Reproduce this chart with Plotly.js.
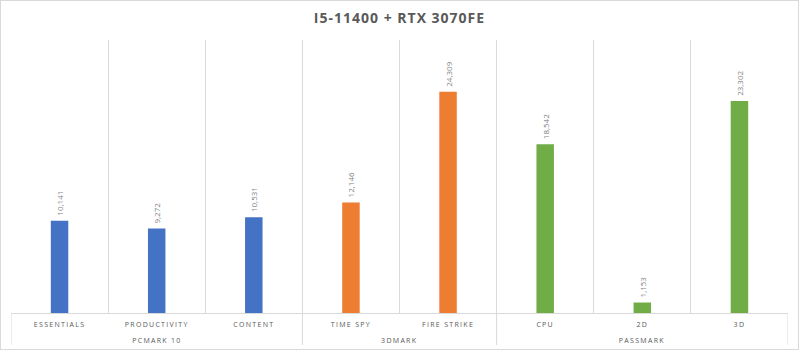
<!DOCTYPE html>
<html>
<head>
<meta charset="utf-8">
<script src="https://cdn.plot.ly/plotly-3.0.1.min.js"></script>
<style>
  html, body { margin: 0; padding: 0; background: #fff; }
  #chart { position: absolute; left: 0; top: 0; width: 797px; height: 348px; border: 1px solid #d9d9d9; }
  #chart .xaxislayer-above text { letter-spacing: 1.3px; }
  #chart .annotation text { letter-spacing: 1.3px; }
  #chart .gtitle { letter-spacing: 1px; }
</style>
</head>
<body>
<div id="chart"></div>
<script>
const groups = ["PCMARK 10", "PCMARK 10", "PCMARK 10", "3DMARK", "3DMARK", "PASSMARK", "PASSMARK", "PASSMARK"];
const categories = ["ESSENTIALS", "PRODUCTIVITY", "CONTENT", "TIME SPY", "FIRE STRIKE", "CPU", "2D", "3D"];
const scores = [10141, 9272, 10531, 12146, 24309, 18542, 1153, 23302];
const groupColors = {"PCMARK 10": "#4472C4", "3DMARK": "#ED7D31", "PASSMARK": "#70AD47"};
const titleText = "I5-11400 + RTX 3070FE";

// group spans (index ranges) derived from the groups array
const spans = [];
groups.forEach((g, i) => {
  if (!spans.length || spans[spans.length - 1].name !== g) spans.push({ name: g, start: i, end: i });
  else spans[spans.length - 1].end = i;
});

const plotH = 348 - 39 - 36;
const gray = "#d9d9d9";

const shapes = [];
const boundaries = [spans[0].start - 0.5].concat(spans.map(s => s.end + 0.5));
boundaries.forEach(b => {
  shapes.push({
    type: "line", xref: "x", yref: "paper",
    x0: b, x1: b, y0: 0, y1: -32 / plotH,
    line: { color: gray, width: 1 }
  });
});

const annotations = spans.map(s => ({
  xref: "x", yref: "paper",
  x: (s.start + s.end) / 2, y: -27 / plotH,
  text: s.name, showarrow: false,
  xanchor: "center", yanchor: "middle",
  font: { family: "Open Sans, sans-serif", size: 7, color: "#595959" }
}));

const trace = {
  type: "bar",
  x: categories,
  y: scores,
  width: 0.18,
  marker: { color: groups.map(g => groupColors[g]) },
  texttemplate: "\u00a0%{y:,}",
  textposition: "outside",
  textangle: -90,
  constraintext: "none",
  cliponaxis: false,
  textfont: { family: "Open Sans, sans-serif", size: 8, color: "#7f7f7f" },
  hoverinfo: "none"
};

const layout = {
  width: 797,
  height: 348,
  margin: { l: 10, r: 10, t: 39, b: 36 },
  paper_bgcolor: "#ffffff",
  plot_bgcolor: "#ffffff",
  showlegend: false,
  title: {
    text: "<b>" + titleText + "</b>",
    x: 0.5,
    xanchor: "center",
    y: 0.95,
    yanchor: "middle",
    font: { family: "Open Sans, sans-serif", size: 14, color: "#595959" }
  },
  xaxis: {
    type: "category",
    tickson: "boundaries",
    showgrid: true,
    gridcolor: gray,
    gridwidth: 1,
    showline: true,
    linecolor: gray,
    linewidth: 1,
    ticks: "",
    ticklabelstandoff: 5,
    tickfont: { family: "Open Sans, sans-serif", size: 7, color: "#595959" },
    zeroline: false,
    range: [-0.5, categories.length - 0.5]
  },
  yaxis: {
    range: [0, 30000],
    visible: false,
    showgrid: false,
    zeroline: false
  },
  shapes: shapes,
  annotations: annotations
};

Plotly.newPlot("chart", [trace], layout, { displayModeBar: false, staticPlot: true });
</script>
</body>
</html>
